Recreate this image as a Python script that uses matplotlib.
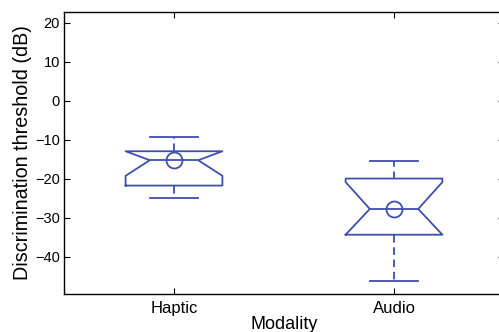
import matplotlib
matplotlib.use("Agg")
from matplotlib import pyplot as plt

# box statistics (dB)
labels = ["Haptic", "Audio"]
whis_hi = [-9.4, -15.6]
q3 = [-13.0, -20.0]
medians = [-15.3, -27.8]
q1 = [-21.8, -34.4]
whis_lo = [-25.1, -46.2]
ci_hi = [-13.0, -20.9]   # notch clipped to the box as in the original
ci_lo = [-19.3, -34.4]
centers = [-15.3, -27.8]  # circle markers

blue = "#3f4fae"
plt.rcParams["font.family"] = ["Liberation Sans", "DejaVu Sans"]

stats = []
for i in range(len(labels)):
    stats.append(dict(label=labels[i], med=medians[i], q1=q1[i], q3=q3[i],
                      whislo=whis_lo[i], whishi=whis_hi[i],
                      cilo=ci_lo[i], cihi=ci_hi[i], mean=centers[i],
                      fliers=[]))

fig = plt.figure(figsize=(4.99, 3.32), dpi=100)
ax = fig.add_axes([64 / 499, 38 / 332, 440 / 499, 282 / 332])

lw = 1.3
ax.bxp(stats, positions=[1, 2], widths=0.44, shownotches=True, showmeans=True,
       boxprops=dict(color=blue, linewidth=lw),
       whiskerprops=dict(color=blue, linewidth=lw, linestyle=(0, (4.2, 2.6))),
       capprops=dict(color=blue, linewidth=lw),
       medianprops=dict(color=blue, linewidth=lw),
       meanprops=dict(marker="o", markersize=11.5, markerfacecolor="none",
                      markeredgecolor=blue, markeredgewidth=lw))

ax.set_xlim(0.5, 2.5)
ax.set_ylim(-49.6, 22.7)
ax.set_yticks([-40, -30, -20, -10, 0, 10, 20])
ax.set_yticklabels(["\u221240", "\u221230", "\u221220", "\u221210", "0", "10", "20"])
ax.tick_params(direction="in", length=4, top=True, right=True, width=0.8)
ax.tick_params(axis="y", labelsize=10.5, pad=3)
ax.tick_params(axis="x", labelsize=12, pad=5)
for s in ax.spines.values():
    s.set_linewidth(1.0)
ax.set_xlabel("Modality", fontsize=13, labelpad=0)
ax.set_ylabel("Discrimination threshold (dB)", fontsize=14.2, labelpad=2)

fig.savefig("out.png", dpi=100)
